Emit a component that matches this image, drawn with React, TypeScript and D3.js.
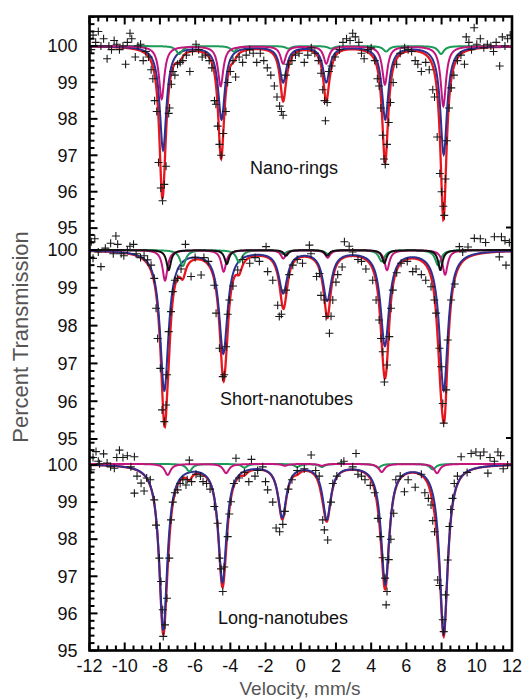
import React, { useEffect, useRef } from 'react';
import * as d3 from 'd3';

// Velocity axis (mm/s) and the labelled transmission values of each panel
const velocityTicks = [-12, -10, -8, -6, -4, -2, 0, 2, 4, 6, 8, 10, 12];
const transmissionTicks = [95, 96, 97, 98, 99, 100];
const panelNames = ['Nano-rings', 'Short-nanotubes', 'Long-nanotubes'];

const nanoRingsPoints: [number, number][] = [
  [-11.9, 99.9], [-11.8, 100.3], [-11.65, 100.1], [-11.5, 100.4], [-11.35, 100.0], [-11.2, 100.2], [-11.0, 99.65],
  [-10.9, 100.0], [-10.75, 99.9], [-10.6, 100.15], [-10.45, 100.05], [-10.3, 99.9], [-10.1, 100.0], [-9.95, 99.5],
  [-9.85, 100.1], [-9.7, 100.35], [-9.6, 100.2], [-9.4, 99.7], [-9.25, 100.0], [-9.1, 100.05], [-8.95, 99.6],
  [-8.8, 99.85], [-8.65, 99.7], [-8.5, 99.35], [-8.4, 99.1], [-8.3, 98.5], [-8.18, 98.2], [-8.08, 96.8],
  [-7.95, 96.1], [-7.85, 95.75], [-7.75, 96.2], [-7.65, 96.7], [-7.5, 98.15], [-7.45, 98.3], [-7.35, 98.95],
  [-7.25, 99.3], [-7.15, 99.2], [-7.0, 99.5], [-6.85, 99.55], [-6.7, 99.6], [-6.5, 99.75], [-6.3, 99.3],
  [-6.15, 99.85], [-5.95, 100.05], [-5.8, 99.9], [-5.6, 99.7], [-5.4, 99.75], [-5.2, 99.6], [-5.05, 99.4],
  [-4.9, 98.5], [-4.82, 98.4], [-4.72, 97.8], [-4.62, 97.3], [-4.52, 97.0], [-4.4, 97.6], [-4.25, 98.2],
  [-4.15, 99.0], [-4.0, 99.3], [-3.85, 99.6], [-3.7, 99.15], [-3.5, 99.7], [-3.3, 99.55], [-3.1, 99.75],
  [-2.9, 99.9], [-2.7, 99.8], [-2.5, 99.55], [-2.3, 99.8], [-2.1, 99.6], [-1.9, 99.4], [-1.7, 99.2],
  [-1.5, 98.9], [-1.35, 98.6], [-1.2, 98.35], [-1.1, 98.2], [-1.0, 98.1], [-0.85, 99.2], [-0.7, 99.5],
  [-0.5, 99.6], [-0.3, 99.75], [-0.1, 99.8], [0.2, 99.55], [0.4, 99.75], [0.6, 99.95], [0.8, 99.8],
  [1.0, 99.6], [1.15, 99.25], [1.25, 98.8], [1.35, 98.5], [1.4, 97.95], [1.5, 98.45], [1.6, 99.3],
  [1.75, 99.45], [1.95, 99.7], [2.2, 99.9], [2.4, 100.1], [2.6, 100.2], [2.8, 100.15], [2.95, 100.35],
  [3.1, 100.25], [3.3, 100.1], [3.45, 99.8], [3.6, 99.65], [3.8, 99.9], [4.0, 99.95], [4.2, 99.6],
  [4.35, 99.1], [4.45, 98.9], [4.55, 98.3], [4.65, 97.55], [4.73, 96.9], [4.8, 96.75], [4.9, 97.3],
  [5.0, 97.9], [5.1, 98.45], [5.25, 99.0], [5.45, 99.5], [5.65, 99.8], [5.9, 99.95], [6.1, 99.9],
  [6.3, 99.85], [6.5, 99.6], [6.65, 99.5], [6.85, 99.3], [7.1, 99.55], [7.3, 99.35], [7.5, 98.8],
  [7.6, 98.6], [7.75, 97.5], [7.9, 96.5], [8.0, 96.0], [8.1, 95.6], [8.15, 95.35], [8.22, 96.35],
  [8.3, 97.4], [8.42, 98.3], [8.55, 98.85], [8.7, 99.2], [8.9, 99.6], [9.1, 99.75], [9.3, 99.5],
  [9.4, 100.25], [9.55, 100.1], [9.7, 99.9], [9.85, 100.5], [10.0, 100.05], [10.2, 100.2], [10.4, 99.95],
  [10.6, 100.05], [10.8, 100.0], [10.95, 99.85], [11.1, 100.1], [11.3, 99.45], [11.45, 100.25], [11.6, 100.0],
  [11.75, 100.2], [11.9, 100.3],
];

const shortTubesPoints: [number, number][] = [
  [-11.9, 100.22], [-11.8, 99.78], [-11.7, 100.3], [-11.5, 99.95], [-11.35, 99.56], [-11.1, 100.05], [-10.8, 100.18],
  [-10.65, 99.9], [-10.5, 100.37], [-10.4, 100.15], [-10.2, 99.9], [-10.05, 99.85], [-9.85, 100.0], [-9.7, 100.1],
  [-9.5, 100.15], [-9.35, 99.9], [-9.1, 99.8], [-8.9, 99.85], [-8.7, 99.74], [-8.5, 99.6], [-8.32, 99.25],
  [-8.22, 98.46], [-8.13, 97.66], [-7.98, 96.87], [-7.88, 95.77], [-7.75, 95.46], [-7.65, 95.9], [-7.6, 96.7],
  [-7.5, 97.84], [-7.37, 98.37], [-7.27, 98.9], [-7.15, 99.2], [-6.99, 99.25], [-6.8, 99.5], [-6.55, 100.15],
  [-6.23, 99.3], [-6.0, 99.8], [-5.66, 99.34], [-5.5, 99.8], [-5.25, 99.7], [-4.91, 99.07], [-4.81, 98.33],
  [-4.62, 97.4], [-4.43, 96.65], [-4.35, 96.7], [-4.24, 97.44], [-4.15, 98.3], [-4.06, 98.68], [-3.85, 99.05],
  [-3.58, 99.47], [-3.3, 99.75], [-2.9, 99.65], [-2.6, 99.8], [-2.35, 99.7], [-1.97, 100.09], [-1.88, 99.43],
  [-1.59, 99.2], [-1.31, 98.54], [-1.22, 98.24], [-1.1, 98.3], [-0.84, 98.94], [-0.65, 99.35], [-0.45, 99.6],
  [-0.2, 99.75], [0.1, 99.65], [0.49, 100.13], [0.58, 99.9], [0.9, 99.3], [1.06, 99.38], [1.15, 98.8],
  [1.34, 98.68], [1.44, 98.24], [1.63, 97.8], [1.72, 98.25], [1.82, 98.68], [2.0, 99.15], [2.1, 99.35],
  [2.35, 99.55], [2.48, 100.22], [2.75, 100.1], [2.95, 99.95], [3.25, 99.75], [3.45, 99.7], [3.7, 99.5],
  [4.09, 99.2], [4.28, 98.68], [4.45, 98.15], [4.56, 97.66], [4.66, 97.31], [4.75, 96.51], [4.9, 96.96],
  [5.03, 97.71], [5.13, 98.46], [5.23, 98.94], [5.45, 99.4], [5.7, 99.65], [6.05, 99.7], [6.36, 99.43],
  [6.55, 99.5], [6.85, 99.35], [7.1, 99.2], [7.4, 99.03], [7.59, 98.68], [7.69, 98.33], [7.88, 97.4],
  [7.97, 96.91], [8.07, 95.94], [8.12, 95.42], [8.26, 96.3], [8.35, 97.62], [8.54, 98.68], [8.75, 99.1],
  [9.01, 100.09], [9.2, 99.95], [9.5, 100.08], [9.86, 100.31], [10.2, 100.3], [10.5, 100.2], [11.0, 100.35],
  [11.28, 99.82], [11.4, 100.35], [11.6, 100.25], [11.66, 99.6], [11.85, 100.2],
];

const longTubesPoints: [number, number][] = [
  [-11.91, 99.87], [-11.8, 100.2], [-11.63, 100.36], [-11.5, 100.1], [-11.43, 100.03], [-11.2, 100.3], [-11.0, 100.05],
  [-10.8, 99.95], [-10.59, 99.91], [-10.45, 100.2], [-10.3, 100.4], [-10.1, 100.2], [-9.85, 100.25], [-9.65, 99.95],
  [-9.45, 100.22], [-9.45, 99.24], [-9.3, 99.7], [-9.07, 99.51], [-8.9, 99.3], [-8.75, 99.65], [-8.55, 99.6],
  [-8.32, 99.06], [-8.22, 98.38], [-8.03, 97.49], [-7.94, 96.86], [-7.84, 96.1], [-7.81, 95.38], [-7.71, 95.69],
  [-7.6, 96.41], [-7.47, 97.49], [-7.37, 98.52], [-7.27, 99.0], [-7.15, 99.25], [-6.99, 99.33], [-6.85, 99.5],
  [-6.7, 99.6], [-6.52, 99.46], [-6.45, 99.6], [-6.33, 100.13], [-6.2, 99.55], [-5.95, 99.75], [-5.7, 99.7],
  [-5.55, 99.55], [-5.35, 99.5], [-5.15, 99.35], [-4.91, 98.88], [-4.72, 98.43], [-4.62, 97.49], [-4.53, 97.2],
  [-4.43, 96.59], [-4.35, 97.25], [-4.15, 98.07], [-4.06, 98.68], [-3.96, 99.01], [-3.8, 99.5], [-3.68, 100.18],
  [-3.5, 99.65], [-3.2, 99.8], [-2.95, 99.55], [-2.8, 100.15], [-2.6, 99.7], [-2.45, 99.85], [-2.16, 99.95],
  [-2.0, 99.55], [-1.88, 99.33], [-1.59, 99.0], [-1.4, 98.3], [-1.2, 98.2], [-1.02, 98.4], [-0.9, 98.75],
  [-0.7, 99.35], [-0.5, 99.6], [-0.2, 99.85], [0.2, 99.9], [0.59, 100.27], [0.85, 99.85], [1.05, 99.7],
  [1.25, 98.52], [1.34, 98.25], [1.53, 97.98], [1.72, 99.0], [1.82, 99.5], [2.05, 99.7], [2.3, 100.05],
  [2.45, 100.1], [2.95, 99.95], [3.14, 100.31], [3.25, 99.75], [3.45, 99.7], [3.65, 99.6], [3.95, 99.45],
  [4.2, 99.25], [4.38, 98.56], [4.52, 98.07], [4.65, 97.5], [4.79, 96.95], [4.85, 96.23], [4.9, 96.59],
  [5.0, 97.45], [5.12, 98.0], [5.28, 98.7], [5.4, 99.6], [5.65, 99.7], [5.89, 99.28], [6.1, 99.6],
  [6.5, 99.4], [6.85, 99.75], [7.05, 99.25], [7.25, 99.1], [7.4, 98.92], [7.5, 98.5], [7.6, 98.2],
  [7.78, 96.9], [7.88, 96.75], [8.07, 95.83], [8.12, 95.51], [8.22, 96.5], [8.35, 97.44], [8.44, 98.34],
  [8.52, 98.8], [8.62, 99.1], [8.72, 99.5], [8.9, 99.7], [9.11, 100.22], [9.45, 99.8], [9.68, 100.31],
  [9.95, 100.35], [10.2, 100.25], [10.4, 100.35], [10.63, 99.78], [10.75, 100.2], [11.0, 100.1], [11.2, 100.35],
  [11.35, 100.25], [11.5, 99.9], [11.75, 100.0],
];

// Fitted sextets: each line is [position mm/s, depth %, half width mm/s]
const ringsBlue: [number, number, number][] = [
  [-7.82, 2.85, 0.23], [-4.5, 2.0, 0.23], [-1.0, 0.98, 0.23], [1.45, 0.98, 0.23], [4.8, 2.0, 0.23], [8.12, 2.97, 0.23],
];
const ringsMagenta: [number, number, number][] = [
  [-7.9, 1.45, 0.18], [-4.55, 1.1, 0.18], [-1.0, 0.48, 0.18], [1.45, 0.48, 0.18], [4.78, 1.05, 0.18], [8.1, 1.65, 0.18],
];
const ringsGreen: [number, number, number][] = [
  [-6.9, 0.22, 0.2], [-3.8, 0.15, 0.2], [-0.7, 0.07, 0.2], [1.72, 0.07, 0.2], [4.85, 0.15, 0.2], [7.97, 0.22, 0.2],
];

const shortBlue: [number, number, number][] = [
  [-7.75, 3.7, 0.29], [-4.4, 2.7, 0.29], [-1.0, 1.1, 0.29], [1.5, 1.3, 0.29], [4.78, 2.5, 0.29], [8.12, 3.7, 0.29],
];
const shortMagenta: [number, number, number][] = [
  [-7.71, 0.81, 0.17], [-4.38, 0.57, 0.17], [-0.99, 0.22, 0.17], [1.53, 0.2, 0.17], [4.9, 0.53, 0.17], [8.2, 0.65, 0.17],
];
const shortBlack: [number, number, number][] = [
  [-7.5, 0.53, 0.15], [-4.2, 0.37, 0.15], [-0.84, 0.15, 0.15], [1.5, 0.15, 0.15], [4.75, 0.34, 0.15], [7.93, 0.53, 0.15],
];
const shortGreen: [number, number, number][] = [
  [-6.7, 0.42, 0.2], [-3.5, 0.32, 0.2], [-1.0, 0.1, 0.2], [1.55, 0.1, 0.2], [4.6, 0.3, 0.2], [7.8, 0.4, 0.2],
];

const longBlue: [number, number, number][] = [
  [-7.81, 4.45, 0.28], [-4.45, 3.15, 0.28], [-1.05, 1.4, 0.28], [1.48, 1.45, 0.28], [4.8, 3.2, 0.28], [8.12, 4.55, 0.28],
];
const longMagenta: [number, number, number][] = [
  [-7.56, 0.3, 0.2], [-4.24, 0.25, 0.2], [-0.9, 0.05, 0.2], [1.2, 0.05, 0.2], [4.6, 0.22, 0.2], [7.74, 0.25, 0.2],
];
const longGreen: [number, number, number][] = [
  [-6.33, 0.2, 0.2], [-3.2, 0.1, 0.2], [-0.2, 0.08, 0.2], [1.2, 0.08, 0.2], [4.4, 0.1, 0.2], [7.5, 0.15, 0.2],
];

const panelBaselines = [100, 100, 100.03];

const RED = '#e8161d';
const BLUE = '#2e3192';
const MAGENTA = '#c4157f';
const GREEN = '#1b9a58';
const BLACK = '#111111';

const FONT = '"Liberation Sans", Arial, Helvetica, sans-serif';

type Line = [number, number, number];

// absorption of one sextet at velocity v
const absorption = (lines: Line[], v: number) =>
  d3.sum(lines, ([p, depth, g]) => (depth * g * g) / ((v - p) * (v - p) + g * g));

const App = () => {
  const svgRef = useRef<SVGSVGElement>(null);

  useEffect(() => {
    const svg = d3.select(svgRef.current);
    svg.selectAll('*').remove();

    const width = 523;
    const height = 700;
    const left = 89.5;
    const right = 512;
    const top = 16.5;
    const bottom = 650.5;

    svg.attr('width', width).attr('height', height);

    const x = d3.scaleLinear().domain([-12, 12]).range([left, right]);

    // three stacked panels, each with its own transmission scale
    const panelFrames = [
      { y0: top, y1: 228.5, domain: [94.99, 100.81] },
      { y0: 228.5, y1: 439, domain: [95, 100.57] },
      { y0: 439, y1: bottom, domain: [95, 100.7] },
    ];

    const panels = [
      {
        name: panelNames[0],
        points: nanoRingsPoints,
        comps: [
          { color: BLUE, lines: ringsBlue },
          { color: GREEN, lines: ringsGreen },
          { color: MAGENTA, lines: ringsMagenta },
        ],
        labelX: 250,
        labelY: 174,
      },
      {
        name: panelNames[1],
        points: shortTubesPoints,
        comps: [
          { color: BLUE, lines: shortBlue },
          { color: GREEN, lines: shortGreen },
          { color: MAGENTA, lines: shortMagenta },
          { color: BLACK, lines: shortBlack },
        ],
        labelX: 220,
        labelY: 405,
      },
      {
        name: panelNames[2],
        points: longTubesPoints,
        comps: [
          { color: BLUE, lines: longBlue },
          { color: GREEN, lines: longGreen },
          { color: MAGENTA, lines: longMagenta },
        ],
        labelX: 218,
        labelY: 624,
      },
    ];

    const grid = d3.range(-12, 12.0001, 0.02);

    svg
      .append('defs')
      .append('clipPath')
      .attr('id', 'plot-clip')
      .append('rect')
      .attr('x', left)
      .attr('y', top)
      .attr('width', right - left)
      .attr('height', bottom - top);

    const plot = svg.append('g').attr('clip-path', 'url(#plot-clip)');

    panels.forEach((panel, i) => {
      const frame = panelFrames[i];
      const y = d3.scaleLinear().domain(frame.domain).range([frame.y1, frame.y0]);
      const base = panelBaselines[i];
      const line = d3.line<number>().x((v) => x(v));

      // total fit (red) = sum of all components
      const allLines = panel.comps.flatMap((c) => c.lines as Line[]);
      plot
        .append('path')
        .attr('d', line.y((v) => y(base - absorption(allLines, v)))(grid))
        .attr('fill', 'none')
        .attr('stroke', RED)
        .attr('stroke-width', 2.3);

      panel.comps.forEach((c) => {
        plot
          .append('path')
          .attr('d', line.y((v) => y(base - absorption(c.lines as Line[], v)))(grid))
          .attr('fill', 'none')
          .attr('stroke', c.color)
          .attr('stroke-width', 2);
      });

      // data crosses
      const s = 4;
      plot
        .append('g')
        .selectAll('path')
        .data(panel.points)
        .enter()
        .append('path')
        .attr('d', (d) => {
          const px = x(d[0]);
          const py = y(d[1]);
          return `M${px - s},${py}H${px + s}M${px},${py - s}V${py + s}`;
        })
        .attr('stroke', '#1a1a1a')
        .attr('stroke-width', 1.1)
        .attr('fill', 'none');

      // left axis ticks every 0.2 %
      const ticks = d3.range(95, frame.domain[1] + 1e-6, 0.2).map((t) => Math.round(t * 10) / 10);
      svg
        .append('g')
        .selectAll('line')
        .data(ticks)
        .enter()
        .append('line')
        .attr('x1', left)
        .attr('x2', (t) => left + (Math.abs(t - Math.round(t)) < 1e-6 ? 8 : 5))
        .attr('y1', (t) => y(t))
        .attr('y2', (t) => y(t))
        .attr('stroke', '#000')
        .attr('stroke-width', 2);

      svg
        .append('g')
        .selectAll('text')
        .data(transmissionTicks)
        .enter()
        .append('text')
        .attr('x', left - 12)
        .attr('y', (t) => y(t))
        .attr('dy', '0.35em')
        .attr('text-anchor', 'end')
        .style('font-family', FONT)
        .style('font-size', '18px')
        .style('fill', '#111')
        .text((t) => t);

      svg
        .append('text')
        .attr('x', panel.labelX)
        .attr('y', panel.labelY)
        .style('font-family', FONT)
        .style('font-size', '18px')
        .style('fill', '#111')
        .text(panel.name);

      // small separator tick on the right axis
      if (i < 2) {
        svg
          .append('line')
          .attr('x1', right - 6)
          .attr('x2', right)
          .attr('y1', frame.y1 - 1)
          .attr('y2', frame.y1 - 1)
          .attr('stroke', '#000')
          .attr('stroke-width', 2);
      }
    });

    // top and bottom velocity ticks (every 0.5, longer every 2)
    const vTicks = d3.range(-12, 12.0001, 0.5);
    const isMajor = (v: number) => Math.abs(v / 2 - Math.round(v / 2)) < 1e-6;
    const tickG = svg.append('g');
    tickG
      .selectAll('.tb')
      .data(vTicks)
      .enter()
      .append('line')
      .attr('class', 'tb')
      .attr('x1', (v) => x(v))
      .attr('x2', (v) => x(v))
      .attr('y1', bottom)
      .attr('y2', (v) => bottom - (isMajor(v) ? 8 : 5))
      .attr('stroke', '#000')
      .attr('stroke-width', 2);
    tickG
      .selectAll('.tt')
      .data(vTicks)
      .enter()
      .append('line')
      .attr('class', 'tt')
      .attr('x1', (v) => x(v))
      .attr('x2', (v) => x(v))
      .attr('y1', top)
      .attr('y2', (v) => top + (isMajor(v) ? 8 : 5))
      .attr('stroke', '#000')
      .attr('stroke-width', 2);

    svg
      .append('g')
      .selectAll('text')
      .data(velocityTicks)
      .enter()
      .append('text')
      .attr('x', (v) => x(v))
      .attr('y', bottom + 21)
      .attr('text-anchor', 'middle')
      .style('font-family', FONT)
      .style('font-size', '18px')
      .style('fill', '#111')
      .text((v) => String(v));

    // frame
    svg
      .append('rect')
      .attr('x', left)
      .attr('y', top)
      .attr('width', right - left)
      .attr('height', bottom - top)
      .attr('fill', 'none')
      .attr('stroke', '#000')
      .attr('stroke-width', 2.6);

    // axis titles
    svg
      .append('text')
      .attr('x', 300)
      .attr('y', 695)
      .attr('text-anchor', 'middle')
      .style('font-family', FONT)
      .style('font-size', '19px')
      .style('fill', '#555')
      .text('Velocity, mm/s');

    svg
      .append('text')
      .attr('transform', 'translate(28,337) rotate(-90)')
      .attr('text-anchor', 'middle')
      .style('font-family', FONT)
      .style('font-size', '22px')
      .style('fill', '#555')
      .text('Percent Transmission');
  }, []);

  return (
    <div style={{ position: 'absolute', left: 0, top: 0 }}>
      <svg ref={svgRef} style={{ display: 'block' }}></svg>
    </div>
  );
};

export default App;
